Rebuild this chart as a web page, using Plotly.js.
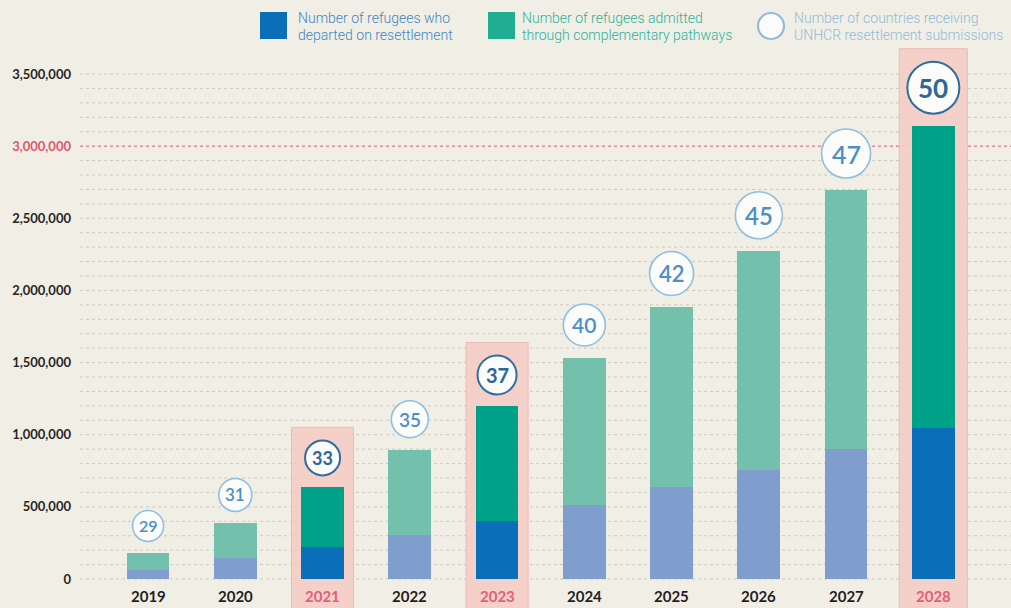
<!DOCTYPE html>
<html><head><meta charset="utf-8">
<script src="https://cdn.plot.ly/plotly-3.0.1.min.js"></script>
<style>html,body{margin:0;padding:0;background:#f1eee5;}</style>
</head><body><div id="chart" style="width:1011px;height:608px;"></div>
<script>
// ---- data ----
const years = ['2019','2020','2021','2022','2023','2024','2025','2026','2027','2028'];
const resettled = [60000, 145000, 219000, 302000, 399000, 510000, 640000, 755000, 898000, 1049000];
const complementary = [117000, 240000, 416000, 594000, 797000, 1022000, 1242000, 1520000, 1798000, 2093000];
const countries = [29, 31, 33, 35, 37, 40, 42, 45, 47, 50];
const highlightYears = ['2021', '2023', '2028'];
const yTickValues = [0, 500000, 1000000, 1500000, 2000000, 2500000, 3000000, 3500000];
const yTickLabels = ['0', '500,000', '1,000,000', '1,500,000', '2,000,000', '2,500,000', '3,000,000', '3,500,000'];
const targetLine = 3000000;
const legendLines = [
  ['Number of refugees who', 'departed on resettlement'],
  ['Number of refugees admitted', 'through complementary pathways'],
  ['Number of countries receiving', 'UNHCR resettlement submissions']
];

// ---- styles ----
const C = {
  bg: '#f1eee5', blue: '#0b6eb8', blueFade: '#7f9ecd', green: '#00a189', greenFade: '#73c0ad',
  grid: '#cdc9bf', red: '#e0566f', pink: 'rgba(244,204,197,0.9)', pinkLine: '#eebbb3',
  circleLine: '#8dbfe0', circleDark: '#2f6d9c', numText: '#4b8fc6', numDark: '#2c679a',
  legBlue: '#3d86c4', legGreen: '#2db29a', legLight: '#8fbcdc'
};
const isHi = years.map(y => highlightYears.includes(y));
const totals = years.map((y, i) => resettled[i] + complementary[i]);

const tickText = yTickValues.map((v, k) => v === targetLine
  ? '<span style="color:' + C.red + '">' + yTickLabels[k] + '</span>' : yTickLabels[k]);

const traces = [
  { type: 'bar', x: years, y: resettled, width: 0.49,
    marker: { color: isHi.map(h => h ? C.blue : C.blueFade), line: { width: 0 } },
    hoverinfo: 'x+y' },
  { type: 'bar', x: years, y: complementary, width: 0.49,
    marker: { color: isHi.map(h => h ? C.green : C.greenFade), line: { width: 0 } },
    hoverinfo: 'x+y' }
];

const shapes = [];
const annotations = [];
const GAP = 12;
// highlight panels first (lowest)
years.forEach((yr, i) => {
  if (!isHi[i]) return;
  const d = countries[i] + 2;
  const half = Math.max(31, d / 2 + 8);
  shapes.push({ type: 'rect', layer: 'below', xref: 'x', yref: 'y', xsizemode: 'pixel', ysizemode: 'pixel',
    xanchor: i, yanchor: totals[i], x0: -half, x1: half, y0: -900, y1: GAP + d + 13,
    fillcolor: C.pink, line: { color: C.pinkLine, width: 1 } });
});
// dashed grid every 100,000 (drawn over the panels, under the bars)
for (let v = 0; v <= yTickValues[yTickValues.length - 1]; v += 100000) {
  shapes.push({ type: 'line', layer: 'below', xref: 'paper', yref: 'y', x0: 0, x1: 1, y0: v, y1: v,
    line: { color: v === targetLine ? C.red : C.grid, width: 1, dash: '3px,3px' } });
}
years.forEach((yr, i) => {
  const d = countries[i] + 2;   // category index i is the position of years[i]
  shapes.push({ type: 'circle', layer: 'above', xref: 'x', yref: 'y', xsizemode: 'pixel', ysizemode: 'pixel',
    xanchor: i, yanchor: totals[i], x0: -d / 2, x1: d / 2, y0: GAP, y1: GAP + d,
    fillcolor: '#fbfbf9', line: { color: isHi[i] ? C.circleDark : C.circleLine, width: isHi[i] ? 2 : 1.6 } });
  annotations.push({ x: i, y: totals[i], xref: 'x', yref: 'y', showarrow: false, yshift: GAP + d / 2,
    text: String(countries[i]), xanchor: 'center', yanchor: 'middle',
    font: { family: 'Lato', size: Math.round(d * 0.5), color: isHi[i] ? C.numDark : C.numText, weight: isHi[i] ? 700 : 600 } });
  annotations.push({ x: i, y: 0, xref: 'x', yref: 'y', showarrow: false, yshift: -17, yanchor: 'middle',
    text: yr, font: { family: 'Lato', size: 15, weight: 700, color: isHi[i] ? '#e0607a' : '#1f1f1f' } });
});

// legend (paper coords; plot area: x 80..1011, y 45..608)
const px = v => (v - 80) / 931;
const py = v => (608 - v) / 563;
shapes.push({ type: 'rect', xref: 'paper', yref: 'paper', x0: px(260), x1: px(287), y0: py(39), y1: py(12), fillcolor: C.blue, line: { width: 0 } });
shapes.push({ type: 'rect', xref: 'paper', yref: 'paper', x0: px(488), x1: px(515), y0: py(39), y1: py(12), fillcolor: '#1fae93', line: { width: 0 } });
shapes.push({ type: 'circle', xref: 'paper', yref: 'paper', x0: px(758), x1: px(784), y0: py(39), y1: py(13), fillcolor: '#fbfbf9', line: { color: C.legLight, width: 2.2 } });
const legX = [296, 520, 792];
const legCol = [C.legBlue, C.legGreen, C.legLight];
legendLines.forEach((lines, k) => {
  lines.forEach((t, j) => {
    annotations.push({ xref: 'paper', yref: 'paper', x: px(legX[k]), y: py(j === 0 ? 18 : 35), xanchor: 'left', yanchor: 'middle',
      showarrow: false, text: t, font: { family: 'Roboto', size: 14, weight: 300, color: legCol[k] } });
  });
});

const layout = {
  width: 1011, height: 608,
  margin: { l: 80, r: 0, t: 45, b: 0 },
  paper_bgcolor: C.bg, plot_bgcolor: 'rgba(0,0,0,0)',
  barmode: 'stack', showlegend: false,
  xaxis: { type: 'category', range: [-0.78, 9.89], showticklabels: false, showgrid: false, zeroline: false, showline: false, fixedrange: true },
  yaxis: { range: [-201000, 3701000], tickmode: 'array', tickvals: yTickValues, ticktext: tickText,
    showgrid: false, zeroline: false, showline: false,
    ticks: '', ticklabelstandoff: 8, tickfont: { family: 'Lato', size: 13, weight: 700, color: '#262626' }, fixedrange: true },
  shapes: shapes, annotations: annotations
};
Plotly.newPlot('chart', traces, layout, { displayModeBar: false, staticPlot: true });
</script></body></html>
